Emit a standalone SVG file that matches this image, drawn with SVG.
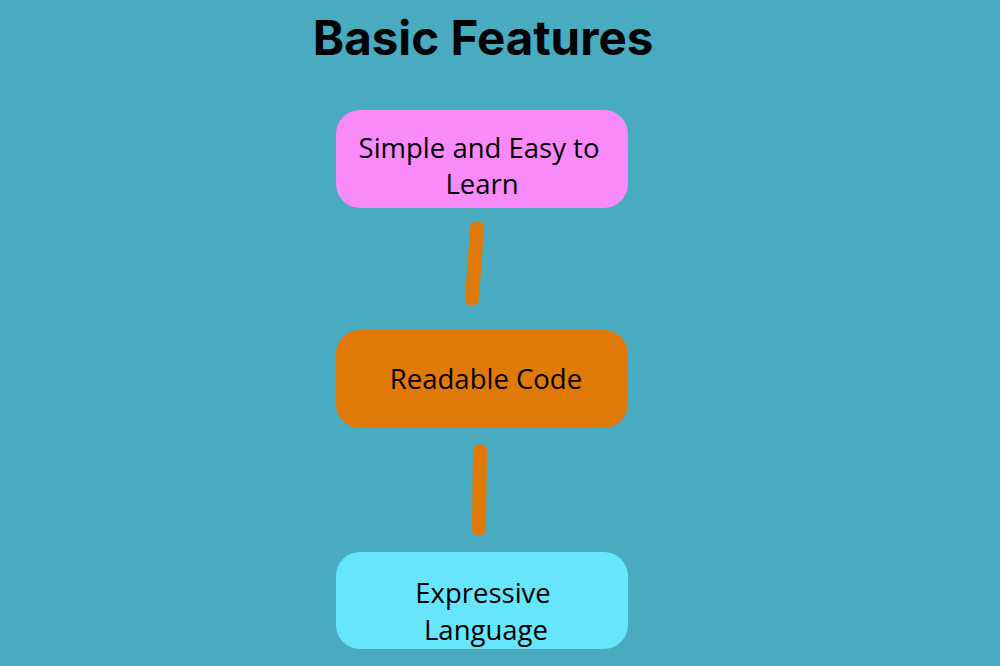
<svg xmlns="http://www.w3.org/2000/svg" width="1000" height="666" viewBox="0 0 1000 666">
<style>
.t{font-family:"Open Sans","Liberation Sans",sans-serif;font-size:27.5px;fill:#000;text-anchor:middle}
.h{font-family:"Inter","Liberation Sans",sans-serif;font-weight:700;font-size:47.5px;fill:#000;text-anchor:middle}
.c{stroke:#DF7A0A;stroke-width:14;stroke-linecap:round;fill:none}
</style>
<rect width="1000" height="666" fill="#49ABC0"/>
<text class="h" x="483" y="55">Basic Features</text>
<g id="connectors">
<line class="c" x1="477" y1="228" x2="472" y2="299"/>
<line class="c" x1="480" y1="451" x2="479" y2="529"/>
</g>
<g id="n1">
<rect x="336" y="110" width="292" height="98" rx="24" fill="#F98AF9"/>
<text class="t" x="479" y="158">Simple and Easy to</text>
<text class="t" x="482" y="194">Learn</text>
</g>
<g id="n2">
<rect x="336" y="330" width="292" height="98" rx="24" fill="#DF7908"/>
<text class="t" x="486" y="389">Readable Code</text>
</g>
<g id="n3">
<rect x="336" y="552" width="292" height="97" rx="24" fill="#66E5FB"/>
<text class="t" x="483" y="603">Expressive</text>
<text class="t" x="486" y="640">Language</text>
</g>
</svg>
